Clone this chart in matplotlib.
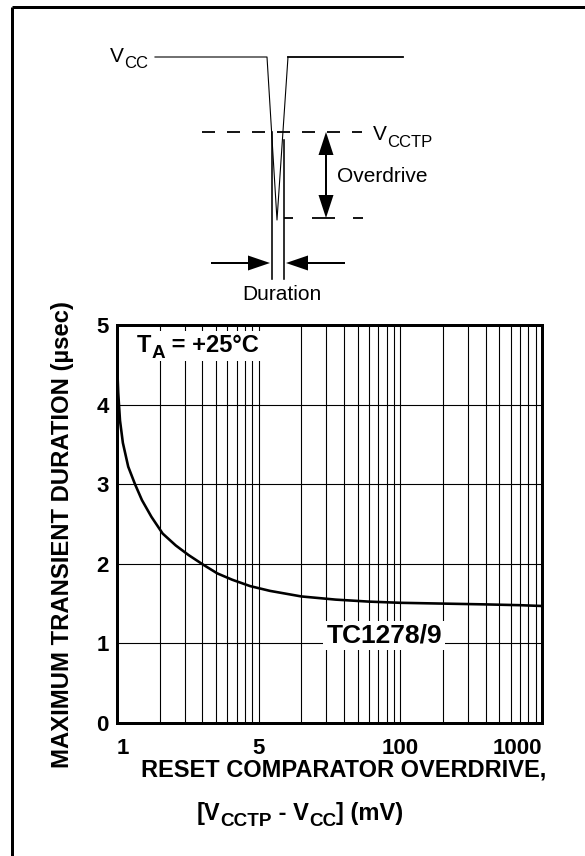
import matplotlib
matplotlib.use("Agg")
import matplotlib.pyplot as plt
from matplotlib.patches import Rectangle
from matplotlib.ticker import LogLocator, NullFormatter, FixedLocator

plt.rcParams['font.family'] = ['Liberation Sans', 'DejaVu Sans']

# ---- data ----
overdrive_mv = [1.0, 1.02, 1.05, 1.1, 1.2, 1.34, 1.5, 1.75, 2.1, 2.6, 3.2,
                4.05, 5.1, 6.5, 8.7, 12, 20, 35, 60, 100, 200, 400, 700, 1000]
duration_us = [4.55, 4.15, 3.8, 3.52, 3.22, 3.0, 2.8, 2.59, 2.38, 2.23, 2.11,
               1.99, 1.88, 1.80, 1.72, 1.66, 1.59, 1.55, 1.525, 1.51, 1.50,
               1.49, 1.48, 1.47]
x_tick_values = [1, 10, 100, 1000]
x_tick_labels = ["1", "5", "100", "1000"]
y_tick_values = [0, 1, 2, 3, 4, 5]
y_tick_labels = ["0", "1", "2", "3", "4", "5"]
series_label = "TC1278/9"

W, H = 585, 856
fig = plt.figure(figsize=(W / 100, H / 100), dpi=100)
renderer = fig.canvas.get_renderer()
px = 0.72  # points per pixel


def make_overlay(z):
    a = fig.add_axes([0, 0, 1, 1], zorder=z)
    a.set_xlim(0, W)
    a.set_ylim(H, 0)
    a.axis('off')
    a.patch.set_visible(False)
    return a


def text_width(axo, s, size, weight):
    t1 = axo.text(0, 0, "|" + s + "|", fontsize=size, fontweight=weight)
    t2 = axo.text(0, 0, "||", fontsize=size, fontweight=weight)
    w = t1.get_window_extent(renderer).width - t2.get_window_extent(renderer).width
    t1.remove()
    t2.remove()
    return w


def rich(axo, x, y, parts, size, weight='normal', ha='left',
         sub_scale=0.8, sub_drop=5.5, z=6):
    """Draw text with large subscripts; y is the baseline in pixels."""
    items = []
    cur = 0.0
    for s, sub in parts:
        fs = size * sub_scale if sub else size
        items.append((cur, s, fs, sub_drop if sub else 0.0))
        cur += text_width(axo, s, fs, weight)
    shift = {'left': 0, 'center': cur / 2, 'right': cur}[ha]
    for off, s, fs, dy in items:
        axo.text(x - shift + off, y + dy, s, fontsize=fs, fontweight=weight,
                 ha='left', va='baseline', zorder=z)
    return x - shift, cur


# ---- bottom overlay: schematic ----
ov = make_overlay(0)
ov.plot([12, W], [7, 7], color='black', lw=3 * px, solid_capstyle='butt')
ov.plot([12, 12], [7, H], color='black', lw=3 * px, solid_capstyle='butt')

ov.plot([155, 267, 277, 288], [57, 57, 220, 57], color='black', lw=1.1 * px)
ov.plot([288, 403], [57, 57], color='black', lw=1.8 * px)

ov.plot([202, 362], [132, 132], color='black', lw=1.8 * px,
        dashes=(13 / 1.8, 12 / 1.8))
for a, b in [(284, 293), (312, 335), (353, 363)]:
    ov.plot([a, b], [218, 218], color='black', lw=1.8 * px, solid_capstyle='butt')

ov.plot([272, 272], [132, 279], color='black', lw=1.6 * px)
ov.plot([284, 284], [140, 279], color='black', lw=1.6 * px)

ov.plot([326, 326], [150, 200], color='black', lw=2 * px)
ov.fill([326, 318.5, 333.5], [132, 155, 155], color='black', lw=0)
ov.fill([326, 318.5, 333.5], [218, 195, 195], color='black', lw=0)
ov.text(337, 176, "Overdrive", fontsize=15, ha='left', va='center')

ov.plot([212, 252], [263, 263], color='black', lw=2 * px)
ov.fill([270, 248, 248], [263, 255.5, 270.5], color='black', lw=0)
ov.plot([344, 304], [263, 263], color='black', lw=2 * px)
ov.fill([286, 308, 308], [263, 255.5, 270.5], color='black', lw=0)
ov.text(282, 294, "Duration", fontsize=15, ha='center', va='center')

rich(ov, 110, 62, [("V", False), ("CC", True)], 15)
rich(ov, 373, 140, [("V", False), ("CCTP", True)], 15, sub_drop=6.5)

# ---- main chart ----
L, R, T, B = 117, 542, 325, 723
ax = fig.add_axes([L / W, 1 - B / H, (R - L) / W, (B - T) / H], zorder=1)
ax.set_xscale('log')
ax.set_xlim(1, 1000)
ax.set_ylim(0, 5)

ax.plot(overdrive_mv, duration_us, color='black', lw=2.6 * px, zorder=3,
        solid_capstyle='butt')

ax.xaxis.set_major_locator(FixedLocator(x_tick_values))
ax.set_xticklabels(x_tick_labels, fontsize=16, fontweight='bold')
ax.xaxis.set_minor_locator(LogLocator(base=10, subs=range(2, 10)))
ax.xaxis.set_minor_formatter(NullFormatter())
ax.set_yticks(y_tick_values)
ax.set_yticklabels(y_tick_labels, fontsize=16, fontweight='bold')
ax.tick_params(axis='both', which='both', length=0)
ax.tick_params(axis='x', pad=11)
ax.tick_params(axis='y', pad=6)
xl = ax.get_xticklabels()
xl[0].set_ha('left')
xl[-1].set_ha('right')

ax.grid(True, which='both', axis='x', color='black', lw=1.1 * px)
ax.grid(True, which='major', axis='y', color='black', lw=1.1 * px)
for s in ax.spines.values():
    s.set_linewidth(3 * px)

ax.text(30, 1.1, series_label, fontsize=19, fontweight='bold',
        ha='left', va='center', zorder=4,
        bbox=dict(facecolor='white', edgecolor='none', pad=2))

# ---- top overlay: labels ----
top = make_overlay(5)
x0, w = rich(top, 137, 352, [("T", False), ("A", True), (" = +25°C", False)],
             17, weight='bold', sub_drop=6)
top.add_patch(Rectangle((x0 - 4, 331), w + 8, 30, facecolor='white',
                        edgecolor='none', zorder=5))

top.text(63, 534, "MAXIMUM TRANSIENT DURATION (µsec)", rotation=90,
         fontsize=17.2, fontweight='bold', ha='center', va='center')
top.text(344, 770, "RESET COMPARATOR OVERDRIVE,", fontsize=17,
         fontweight='bold', ha='center', va='center')
rich(top, 300, 820, [("[V", False), ("CCTP", True), (" - V", False),
                     ("CC", True), ("] (mV)", False)], 17, weight='bold',
     ha='center', sub_drop=6)

fig.savefig("out.png", dpi=100)
